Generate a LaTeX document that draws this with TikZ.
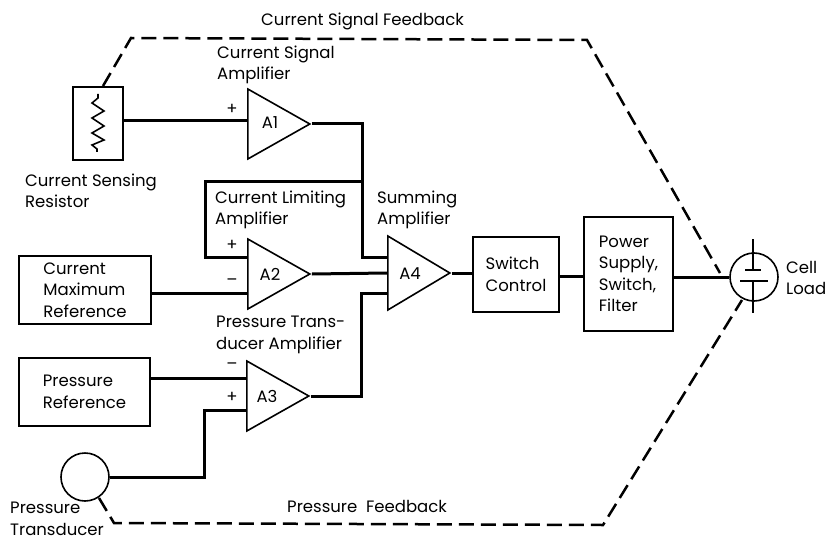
\documentclass[tikz,border=0pt]{standalone}
\usepackage{fontspec}
\usepackage{tikz}
\usetikzlibrary{shapes.geometric}
\setmainfont{Poppins}

\tikzset{
    blockbox/.style={draw, line width=1.6pt, align=left, inner sep=0pt},
    amp/.style={draw, line width=1.6pt, isosceles triangle, isosceles triangle stretches,
        inner sep=0pt, minimum width=70pt, minimum height=62pt, anchor=lower side},
    wire/.style={line width=3pt},
    feedback/.style={line width=2.5pt, dash pattern=on 15pt off 7pt},
    caption/.style={align=left, anchor=west, inner sep=0pt}
}

\begin{document}
\begin{tikzpicture}[x=1pt, y=-1pt, font=\fontsize{16.5}{21.5}\selectfont]
    \useasboundingbox (0, 0) rectangle (826, 540);

    \node[blockbox, minimum width=50pt, minimum height=73pt] (resistor) at (98, 123.5) {};
    \node[blockbox, minimum width=132pt, minimum height=68pt] (maxref) at (85, 290) {Current\\Maximum\\Reference};
    \node[blockbox, minimum width=131pt, minimum height=68pt] (pressref) at (84.5, 392) {Pressure\\Reference};
    \node[blockbox, minimum width=86pt, minimum height=75pt] (switchctl) at (516, 274.5) {Switch\\Control};
    \node[blockbox, minimum width=89pt, minimum height=114pt] (supply) at (628.5, 274) {Power\\Supply,\\Switch,\\Filter};
    \node[draw, circle, line width=1.6pt, minimum size=48pt, inner sep=0pt] (transducer) at (85, 477) {};
    \node[draw, circle, line width=1.6pt, minimum size=48pt, inner sep=0pt] (cell) at (754, 277) {};

    \node[amp] (a1) at (247, 124) {};
    \node[amp] (a2) at (247, 274) {};
    \node[amp] (a3) at (246, 396) {};
    \node[amp, minimum width=74pt] (a4) at (387, 273) {};

    % amplifier inputs and corners
    \coordinate (a1in) at (247, 121);
    \coordinate (a2plus) at (247, 257);
    \coordinate (a2minus) at (247, 293);
    \coordinate (a3minus) at (246, 378);
    \coordinate (a3plus) at (246, 410);
    \coordinate (a4top) at (387, 257);
    \coordinate (a4low) at (387, 293);
    \coordinate (sumbus) at (362, 181);
    \coordinate (limitcorner) at (205, 181);
    \coordinate (a3bus) at (361, 293);
    \coordinate (transbus) at (204, 410);
    \coordinate (supplyin) at (584, 276);
    \coordinate (switchout) at (559, 276);

    \draw[wire] (resistor.east |- a1in) -- (a1in);
    \draw[wire] (a1.apex) -| (sumbus) |- (a4top);
    \draw[wire] (sumbus) -- (limitcorner) |- (a2plus);
    \draw[wire] (maxref.east |- a2minus) -- (a2minus);
    \draw[wire] (a2.apex) -- (a4.lower side);
    \draw[wire] (a3.apex) -| (a3bus) -- (a4low);
    \draw[wire] (pressref.east |- a3minus) -- (a3minus);
    \draw[wire] (transducer.east) -| (transbus) -- (a3plus);
    \draw[wire] (a4.apex) -- (switchctl.west |- a4.apex);
    \draw[wire] (switchout) -- (supplyin);
    \draw[wire] (supply.east |- cell.west) -- (cell.west);

    % feedback lines
    \coordinate (sensetop) at (103, 86);
    \coordinate (topleft) at (131, 38);
    \coordinate (topright) at (587, 40);
    \coordinate (cellupper) at (720, 273);
    \coordinate (transfoot) at (99, 498);
    \coordinate (bottomleft) at (114, 523);
    \coordinate (bottomright) at (603, 525);
    \coordinate (celllower) at (742, 300);
    \draw[feedback] (sensetop) -- (topleft) -- (topright) -- (cellupper);
    \draw[feedback] (transfoot) -- (bottomleft) -- (bottomright) -- (celllower);

    % resistor and cell symbols
    \draw[line width=1.6pt] (98, 94) -- (98, 98) -- (92, 103) -- (104, 111) -- (92, 118) -- (104, 126)
        -- (92, 133) -- (104, 140) -- (92, 145) -- (97, 149) -- (97, 152);
    \draw[line width=1.6pt] (753, 239) -- (753, 270);
    \draw[line width=1.6pt] (745, 270) -- (761, 270);
    \draw[line width=1.6pt] (740, 281) -- (768, 281);
    \draw[line width=1.6pt] (753, 281) -- (753, 313);

    % labels
    \node (nameone) at (270, 123) {A1};
    \node (nametwo) at (270, 274) {A2};
    \node (namethree) at (267, 396) {A3};
    \node (namefour) at (410, 274) {A4};

    \node[caption] (lblsignal) at (261, 21) {Current Signal Feedback};
    \node[caption] (lblampone) at (217, 65) {Current Signal\\Amplifier};
    \node[caption] (lblsense) at (25, 191) {Current Sensing\\Resistor};
    \node[caption] (lbllimit) at (215, 210) {Current Limiting\\Amplifier};
    \node[caption] (lblsum) at (377, 210) {Summing\\Amplifier};
    \node[caption] (lblpress) at (216, 335) {Pressure Trans-\\ducer Amplifier};
    \node[caption] (lblfeed) at (287, 506) {Pressure\ \ Feedback};
    \node[caption] (lbltrans) at (10, 519) {Pressure\\Transducer};
    \node[caption] (lblcell) at (786, 278) {Cell\\Load};

    \node (plusone) at (232, 109) {+};
    \node (plustwo) at (232, 245) {+};
    \node (minustwo) at (232, 282) {--};
    \node (minusthree) at (232, 366) {--};
    \node (plusthree) at (232, 397) {+};
\end{tikzpicture}
\end{document}
